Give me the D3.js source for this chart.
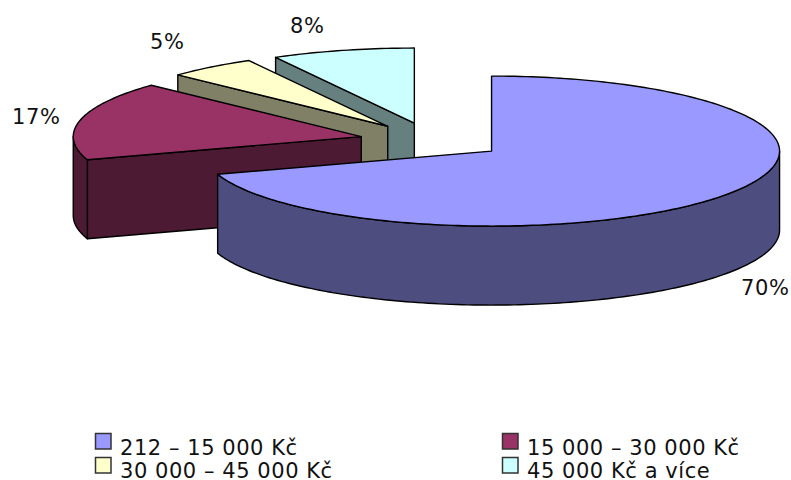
<!DOCTYPE html>
<html>
<head>
<meta charset="utf-8">
<script src="https://cdn.jsdelivr.net/npm/d3@7/dist/d3.min.js"></script>
<style>
html, body { margin: 0; padding: 0; background: #fff; }
svg { display: block; }
text { font-family: "DejaVu Sans", sans-serif; fill: #111; }
</style>
</head>
<body>
<div id="chart"></div>
<script>
// Income bands and their share of respondents, in percent
const categories = ["212 – 15 000 Kč", "15 000 – 30 000 Kč", "30 000 – 45 000 Kč", "45 000 Kč a více"];
const shares = [70, 17, 5, 8];
const topColors = ["#9999ff", "#993366", "#ffffcc", "#ccffff"];
const wallColors = ["#4d4d80", "#4d1a33", "#808066", "#668080"];

// Tilted-disc geometry
const width = 791, height = 480;
const center = { x: 432.5, y: 140.5 };
const radiusX = 288, radiusY = 75, depth = 79;
const explodeX = 73, explodeY = 18;

// Hand-placed label anchors, one per slice
const labelAnchors = [[741, 295], [12, 124], [150, 49], [290, 33]];

const svg = d3.select("#chart").append("svg").attr("width", width).attr("height", height);

// d3.pie gives clockwise angles measured from twelve o'clock
const slices = d3.pie().sort(null).value(d => d)(shares).map((s, i) => {
  const mid = (s.startAngle + s.endAngle) / 2;
  return {
    i,
    start: s.startAngle,
    end: s.endAngle,
    tipX: center.x + explodeX * Math.sin(mid),
    tipY: center.y - explodeY * Math.cos(mid)
  };
});

const line = d3.line().x(p => p[0]).y(p => p[1]);

const rim = (s, a, drop = 0) => [
  s.tipX + radiusX * Math.sin(a),
  s.tipY - radiusY * Math.cos(a) + drop
];

const samples = (a0, a1) => {
  const n = Math.max(2, Math.ceil((a1 - a0) / 0.02));
  return d3.range(n + 1).map(k => a0 + (a1 - a0) * k / n);
};

const paint = (fill, pts) => svg.append("path")
  .attr("d", line(pts) + "Z")
  .attr("fill", fill)
  .attr("stroke", "#000")
  .attr("stroke-width", 1.4)
  .attr("stroke-linejoin", "round");

// Back slices first so the nearer ones overlap them
[3, 2, 1, 0].forEach(idx => {
  const s = slices[idx];
  const wall = wallColors[idx];
  const tip = [s.tipX, s.tipY];
  const tipLow = [s.tipX, s.tipY + depth];

  // Flat cut face on the leading edge, visible on the left half of the disc
  if (Math.sin(s.start) < -1e-6) {
    paint(wall, [tip, rim(s, s.start), rim(s, s.start, depth), tipLow]);
  }
  // Flat cut face on the trailing edge, visible on the right half of the disc
  if (Math.sin(s.end) > 1e-6) {
    paint(wall, [tip, rim(s, s.end), rim(s, s.end, depth), tipLow]);
  }
  // Curved outer wall over the part of the rim that faces the viewer
  const a0 = Math.max(s.start, Math.PI / 2);
  const a1 = Math.min(s.end, Math.PI * 1.5);
  if (a1 > a0) {
    const upper = samples(a0, a1).map(a => rim(s, a));
    const lower = samples(a0, a1).reverse().map(a => rim(s, a, depth));
    paint(wall, upper.concat(lower));
  }
  // Top surface
  paint(topColors[idx], [tip].concat(samples(s.start, s.end).map(a => rim(s, a))));
});

// Percentage labels
shares.forEach((v, i) => {
  svg.append("text")
    .attr("x", labelAnchors[i][0])
    .attr("y", labelAnchors[i][1])
    .attr("font-size", 21)
    .attr("letter-spacing", 0.7)
    .text(v + "%");
});

// Two-column legend
const legendCols = [95, 502], legendRows = [433, 457], legendBaselines = [455, 478];
categories.forEach((c, i) => {
  const row = Math.floor(i / 2);
  const x = legendCols[i % 2], y = legendRows[row];
  svg.append("rect")
    .attr("x", x + 0.5).attr("y", y + 0.5)
    .attr("width", 15.5).attr("height", 15.5)
    .attr("fill", topColors[i])
    .attr("stroke", "#333")
    .attr("stroke-width", 1.5);
  svg.append("text")
    .attr("x", x + 25)
    .attr("y", legendBaselines[row])
    .attr("font-size", 21)
    .attr("letter-spacing", 0.55)
    .text(c);
});
</script>
</body>
</html>
